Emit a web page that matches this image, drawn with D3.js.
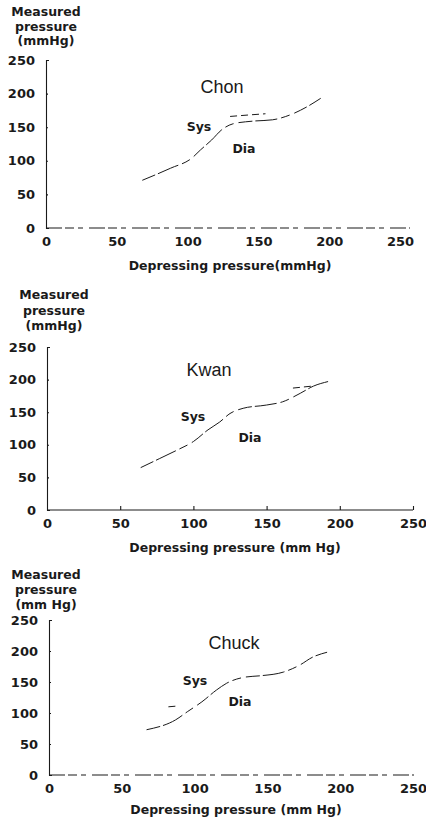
<!DOCTYPE html>
<html>
<head>
<meta charset="utf-8">
<script src="https://cdn.jsdelivr.net/npm/d3@7"></script>
<style>
  body { margin: 0; background: #fff; }
  svg { display: block; }
</style>
</head>
<body>
<svg class="chart"></svg>
<script>
// values (mmHg)
var xTicks = [0, 50, 100, 150, 200, 250];
var yTicks = [0, 50, 100, 150, 200, 250];

var subjects = ["Chon", "Kwan", "Chuck"];
var yUnits = ["(mmHg)", "(mmHg)", "(mm Hg)"];
var xTitles = ["Depressing pressure(mmHg)", "Depressing pressure (mm Hg)", "Depressing pressure (mm Hg)"];

var chonX = [68, 88, 103, 109, 117, 124, 132, 146, 160, 172, 184, 194];
var chonY = [71, 89, 104, 116, 131, 146, 155, 159, 161, 168, 180, 193];
var chonSysX = [130, 142, 155];
var chonSysY = [166, 168, 170];

var kwanX = [64, 77, 89, 100, 110, 118, 125, 134, 150, 161, 173, 182, 192];
var kwanY = [65, 79, 92, 105, 123, 135, 148, 156, 161, 166, 179, 190, 197];
var kwanSysX = [168, 181];
var kwanSysY = [187, 190];

var chuckX = [67, 87, 95, 105, 115, 122, 135, 145, 161, 172, 181, 191];
var chuckY = [73, 89, 102, 118, 137, 148, 158, 160, 166, 177, 190, 198];
var chuckSysX = [82, 87];
var chuckSysY = [110, 111];

var diaX = [chonX, kwanX, chuckX];
var diaY = [chonY, kwanY, chuckY];
var sysX = [chonSysX, kwanSysX, chuckSysX];
var sysY = [chonSysY, kwanSysY, chuckSysY];

// where each panel sits on the page
var layout = [
	{left: 46, right: 400, top: 60, bottom: 228, axisEnd: 410, labelX: 46, labelY: 12, lineGap: 14.5,
		titleX: 222, titleY: 87, sys: [199, 127], dia: [244, 149], xTitleX: 230, xTitleY: 266, dashedBase: true},
	{left: 47, right: 413, top: 347, bottom: 510, axisEnd: 413, labelX: 54, labelY: 295, lineGap: 15.5,
		titleX: 209, titleY: 370, sys: [193, 417], dia: [250, 438], xTitleX: 235, xTitleY: 548, dashedBase: false},
	{left: 49, right: 413, top: 620, bottom: 775, axisEnd: 414, labelX: 46, labelY: 575, lineGap: 15,
		titleX: 234, titleY: 643, sys: [195, 681], dia: [240, 702], xTitleX: 236, xTitleY: 810, dashedBase: true}
];

var width = 426;
var height = 819;
var ink = "#1a1a1a";
var labelFont = "DejaVu Sans";
var titleFont = "Liberation Sans";

var svg = d3.select(".chart")
	.attr("width", width)
	.attr("height", height);

subjects.forEach(function(name, i) {
	var L = layout[i];

	var x = d3.scaleLinear().domain([0, 250]).range([L.left, L.right]);
	var y = d3.scaleLinear().domain([0, 250]).range([L.bottom, L.top]);

	var g = svg.append("g").attr("class", "panel");

	// y axis
	var yAxis = g.append("g")
		.attr("transform", "translate(" + L.left + ",0)")
		.call(d3.axisLeft(y).tickValues(yTicks).tickSize(-2).tickSizeOuter(-3).tickPadding(11));

	// x axis
	var xAxis = g.append("g")
		.attr("transform", "translate(0," + L.bottom + ")")
		.call(d3.axisBottom(x).tickValues(xTicks).tickSize(L.dashedBase ? 0 : -4).tickSizeOuter(0).tickPadding(9));

	xAxis.select(".domain")
		.attr("d", "M" + L.left + ",0H" + L.axisEnd);
	if (L.dashedBase) {
		xAxis.select(".domain").attr("stroke-dasharray", "16,3,9,4,5,6");
	}
	xAxis.selectAll(".tick").filter(function(d) { return d === 0; }).select("line").remove();

	[yAxis, xAxis].forEach(function(ax) {
		ax.attr("font-family", labelFont)
			.attr("font-size", 13)
			.attr("font-weight", "bold");
		ax.selectAll("path, line").attr("stroke", ink).attr("stroke-width", 1.1);
		ax.selectAll("text").attr("fill", ink);
	});

	// y axis title, three lines
	var yTitle = ["Measured", "pressure", yUnits[i]];
	g.append("g")
		.selectAll("text")
		.data(yTitle)
		.enter()
		.append("text")
			.attr("x", L.labelX)
			.attr("y", function(d, k) { return L.labelY + k * L.lineGap; })
			.attr("dy", "0.35em")
			.attr("text-anchor", "middle")
			.attr("font-family", labelFont)
			.attr("font-size", 12.5)
			.attr("font-weight", "bold")
			.attr("fill", ink)
			.text(function(d) { return d; });

	// x axis title
	g.append("text")
		.attr("x", L.xTitleX)
		.attr("y", L.xTitleY)
		.attr("dy", "0.35em")
		.attr("text-anchor", "middle")
		.attr("font-family", labelFont)
		.attr("font-size", 12.5)
		.attr("font-weight", "bold")
		.attr("fill", ink)
		.text(xTitles[i]);

	// subject name
	g.append("text")
		.attr("x", L.titleX)
		.attr("y", L.titleY)
		.attr("dy", "0.35em")
		.attr("text-anchor", "middle")
		.attr("font-family", titleFont)
		.attr("font-size", 18)
		.attr("fill", ink)
		.text(name);

	g.append("text")
		.attr("x", L.sys[0])
		.attr("y", L.sys[1])
		.attr("dy", "0.35em")
		.attr("text-anchor", "middle")
		.attr("font-family", labelFont)
		.attr("font-size", 12.5)
		.attr("font-weight", "bold")
		.attr("fill", ink)
		.text("Sys");

	g.append("text")
		.attr("x", L.dia[0])
		.attr("y", L.dia[1])
		.attr("dy", "0.35em")
		.attr("text-anchor", "middle")
		.attr("font-family", labelFont)
		.attr("font-size", 12.5)
		.attr("font-weight", "bold")
		.attr("fill", ink)
		.text("Dia");

	// curves
	var line = d3.line()
		.x(function(d) { return x(d[0]); })
		.y(function(d) { return y(d[1]); })
		.curve(d3.curveMonotoneX);

	var dia = d3.zip(diaX[i], diaY[i]);
	var sys = d3.zip(sysX[i], sysY[i]);

	g.append("path")
		.datum(dia)
		.attr("d", line)
		.attr("fill", "none")
		.attr("stroke", ink)
		.attr("stroke-width", 1)
		.attr("stroke-dasharray", "14,3,22,4,9,5");

	g.append("path")
		.datum(sys)
		.attr("d", line)
		.attr("fill", "none")
		.attr("stroke", ink)
		.attr("stroke-width", 1)
		.attr("stroke-dasharray", "7,4");
});
</script>
</body>
</html>
